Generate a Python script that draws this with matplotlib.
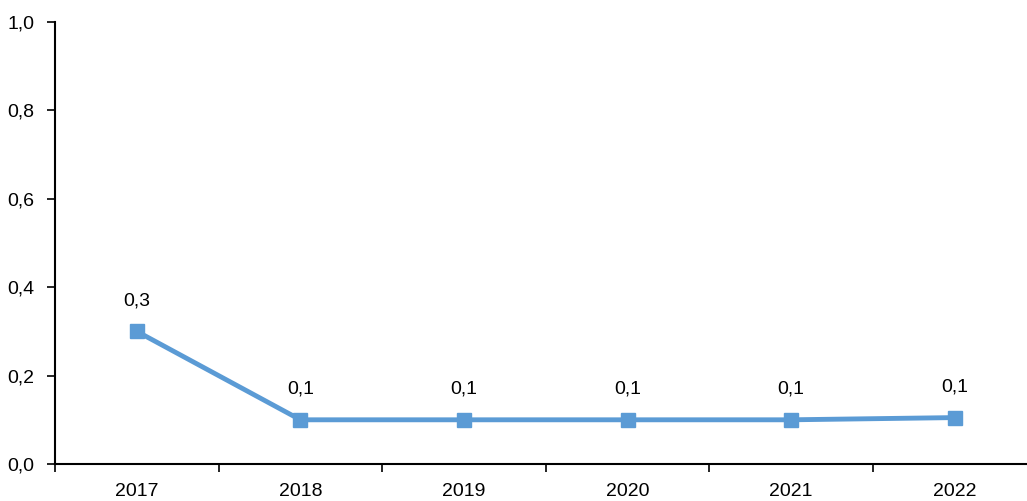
import matplotlib
matplotlib.use("Agg")
import matplotlib.pyplot as plt
from matplotlib.ticker import FuncFormatter, FixedLocator

plt.rcParams['font.family'] = ['Liberation Sans', 'DejaVu Sans']

years = ["2017", "2018", "2019", "2020", "2021", "2022"]
values = [0.30, 0.10, 0.10, 0.10, 0.10, 0.105]
labels = ["0,3", "0,1", "0,1", "0,1", "0,1", "0,1"]

fig = plt.figure(figsize=(10.27, 5.01), dpi=100)
ax = fig.add_axes([55 / 1027, 1 - 464 / 501, 981.6 / 1027, 442 / 501])

x = list(range(len(years)))
ax.plot(x, values, color="#5B9BD5", lw=3.5, marker="s", markersize=10, clip_on=False)

# etiquetas de datos sobre cada punto
for xi, v, lab in zip(x, values, labels):
    ax.annotate(lab, (xi, v), xytext=(0, 22), textcoords="offset points",
                ha="center", va="center", fontsize=14)

ax.set_xlim(-0.5, len(years) - 0.5)
ax.set_ylim(0, 1.0)
ax.set_yticks([0, 0.2, 0.4, 0.6, 0.8, 1.0])
ax.yaxis.set_major_formatter(FuncFormatter(lambda v, p: f"{v:.1f}".replace(".", ",")))

ax.set_xticks(x)
ax.set_xticklabels(years)
ax.tick_params(axis="x", which="major", length=0, pad=14, labelsize=14)
ax.xaxis.set_minor_locator(FixedLocator([i + 0.5 for i in range(-1, len(years))]))
ax.tick_params(axis="x", which="minor", length=6, width=1.2, direction="out")
ax.tick_params(axis="y", length=6, width=1.2, direction="out", labelsize=14, pad=9)

for s in ["top", "right"]:
    ax.spines[s].set_visible(False)
for s in ["left", "bottom"]:
    ax.spines[s].set_linewidth(1.5)

fig.savefig("out.png", dpi=100)
